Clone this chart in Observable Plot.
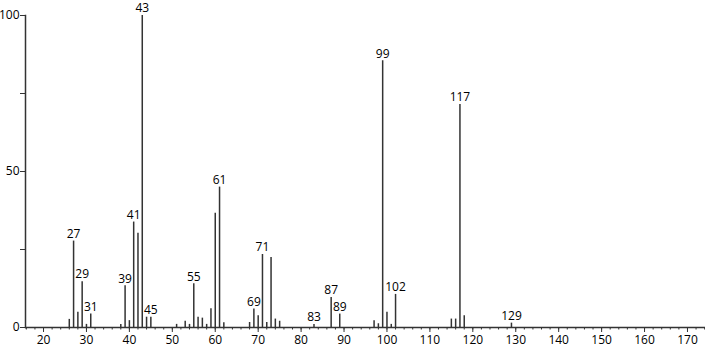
<!DOCTYPE html>
<html>
<head>
<meta charset="utf-8">
<script src="https://cdn.jsdelivr.net/npm/d3@7"></script>
<script src="https://cdn.jsdelivr.net/npm/@observablehq/plot@0.6"></script>
<style>
  body { margin: 0; background: #fff; }
  svg { font-family: "Open Sans", sans-serif; }
</style>
</head>
<body>
<div id="chart"></div>
<script>
const mz = [26, 27, 28, 29, 30, 31, 38, 39, 40, 41, 42, 43, 44, 45, 51, 53, 54, 55, 56, 57, 58, 59, 60, 61, 62,
            68, 69, 70, 71, 72, 73, 74, 75, 83, 87, 89, 97, 98, 99, 100, 101, 102, 115, 116, 117, 118, 129];
const intensity = [2.6, 27.7, 4.9, 14.7, 1, 4.3, 1, 13.4, 2.2, 33.8, 30.2, 100, 3.3, 3.3, 1, 2, 1, 14, 3.3, 3, 1, 6, 36.6, 45, 1.5,
            1.6, 5.9, 3.8, 23.4, 1.6, 22.4, 2.7, 2, 1, 9.6, 4.3, 2.2, 1.2, 85.5, 4.9, 1, 10.6, 2.7, 2.7, 71.5, 3.8, 1.4];
const labeledPeaks = [27, 29, 31, 39, 41, 43, 45, 55, 61, 69, 71, 83, 87, 89, 99, 102, 117, 129];
const xMajorTicks = d3.range(20, 171, 10);
const xMinorTicks = d3.range(16, 175, 2);
const yMajorTicks = [0, 50, 100];
const yMinorTicks = [25, 75];

const peaks = mz.map((m, i) => ({mz: m, v: intensity[i]}));
const labels = peaks.filter(d => labeledPeaks.includes(d.mz));

const chart = Plot.plot({
  width: 705,
  height: 349,
  marginLeft: 25,
  marginRight: 0,
  marginTop: 15,
  marginBottom: 22,
  style: {fontSize: "12px", fontFamily: "Open Sans, sans-serif", color: "#000"},
  x: {domain: [15.8, 174.2], label: null},
  y: {domain: [0, 100], label: null},
  marks: [
    Plot.axisX({ticks: xMinorTicks, tickSize: 2.5, text: null, stroke: "#333", label: null}),
    Plot.axisX({ticks: xMajorTicks, tickSize: 5, tickPadding: 3, stroke: "#333", fill: "#000", label: null}),
    Plot.axisY({ticks: yMinorTicks, tickSize: 5, text: null, stroke: "#333", label: null}),
    Plot.axisY({ticks: yMajorTicks, tickSize: 5, tickPadding: 1, stroke: "#333", fill: "#000", label: null}),
    Plot.ruleX(peaks, {x: "mz", y1: 0, y2: "v", stroke: "#333", strokeWidth: 1.5}),
    Plot.ruleY([0], {stroke: "#333", strokeWidth: 1.5}),
    Plot.frame({anchor: "left", stroke: "#333", strokeWidth: 1.5}),
    Plot.text(labels, {x: "mz", y: "v", text: d => String(d.mz), dy: -7, fill: "#000", fontSize: 12})
  ]
});
document.getElementById("chart").append(chart);
</script>
</body>
</html>
